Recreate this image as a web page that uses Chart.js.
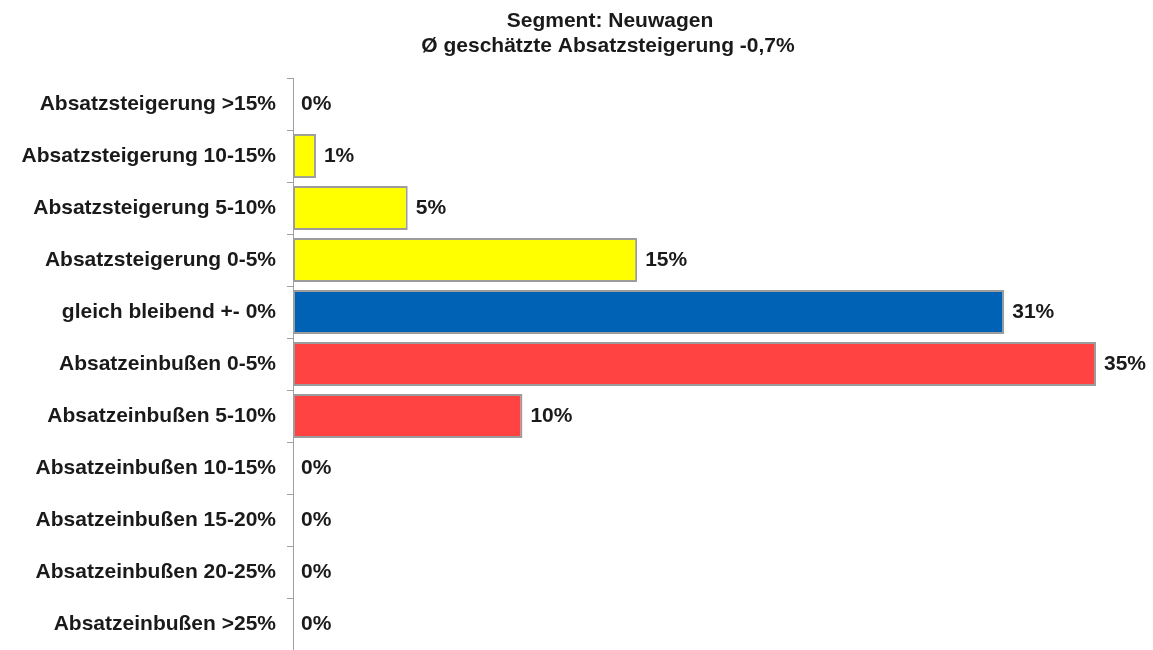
<!DOCTYPE html>
<html>
<head>
<meta charset="utf-8">
<script src="https://cdn.jsdelivr.net/npm/chart.js@4/dist/chart.umd.min.js"></script>
<style>
  html, body { margin: 0; padding: 0; background: #fff; overflow: hidden; }
  #wrap { width: 1153px; height: 650px; }
</style>
</head>
<body>
<div id="wrap"><canvas id="chart"></canvas></div>
<script>
var titleLines = ['Segment: Neuwagen', 'Ø geschätzte Absatzsteigerung -0,7%'];
var categories = [
    'Absatzsteigerung >15%',
    'Absatzsteigerung 10-15%',
    'Absatzsteigerung 5-10%',
    'Absatzsteigerung 0-5%',
    'gleich bleibend +- 0%',
    'Absatzeinbußen 0-5%',
    'Absatzeinbußen 5-10%',
    'Absatzeinbußen 10-15%',
    'Absatzeinbußen 15-20%',
    'Absatzeinbußen 20-25%',
    'Absatzeinbußen >25%'
];
var shares = [0, 1, 5, 15, 31, 35, 10, 0, 0, 0, 0];
var barColors = [
    '#FFFF00', '#FFFF00', '#FFFF00', '#FFFF00',
    '#0062B4',
    '#FF4343', '#FF4343', '#FF4343', '#FF4343', '#FF4343', '#FF4343'
];

var font = 'Liberation Sans, Arial, sans-serif';

// title drawn by hand, it sits a bit right of the canvas centre in the original
var titlePlugin = {
    id: 'twoLineTitle',
    afterDraw: function (chart) {
        var ctx = chart.ctx;
        ctx.save();
        ctx.font = 'bold 21px ' + font;
        ctx.fillStyle = '#1a1a1a';
        ctx.textAlign = 'center';
        ctx.textBaseline = 'middle';
        ctx.fillText(titleLines[0], 610, 21);
        ctx.fillText(titleLines[1], 608, 46);
        ctx.restore();
    }
};

var valueLabels = {
    id: 'valueLabels',
    afterDatasetsDraw: function (chart) {
        var ctx = chart.ctx;
        var meta = chart.getDatasetMeta(0);
        ctx.save();
        ctx.font = 'bold 21px ' + font;
        ctx.fillStyle = '#1a1a1a';
        ctx.textAlign = 'left';
        ctx.textBaseline = 'middle';
        meta.data.forEach(function (bar, i) {
            ctx.fillText(shares[i] + '%', bar.x + 8, bar.y);
        });
        ctx.restore();
    }
};

new Chart(document.getElementById('chart').getContext('2d'), {
    type: 'bar',
    data: {
        labels: categories,
        datasets: [{
            data: shares,
            backgroundColor: barColors,
            borderColor: '#9C9C9C',
            borderWidth: 2,
            borderSkipped: false,
            barPercentage: 0.85,
            categoryPercentage: 1.0
        }]
    },
    options: {
        indexAxis: 'y',
        responsive: true,
        maintainAspectRatio: false,
        animation: false,
        layout: {
            padding: { top: 78, right: 57, bottom: 0, left: 0 }
        },
        plugins: {
            legend: { display: false },
            tooltip: { enabled: false },
            title: { display: false }
        },
        scales: {
            x: {
                display: false,
                min: 0,
                max: 35
            },
            y: {
                afterFit: function (scale) {
                    scale.width = 293;
                    scale.paddingTop = 0;
                    scale.paddingBottom = 0;
                },
                border: { display: true, color: '#A0A0A0', width: 1 },
                grid: {
                    display: true,
                    drawOnChartArea: false,
                    offset: true,
                    tickLength: 6,
                    color: '#A0A0A0'
                },
                ticks: {
                    padding: 11,
                    color: '#1a1a1a',
                    font: { family: font, size: 21, weight: 'bold' }
                }
            }
        }
    },
    plugins: [titlePlugin, valueLabels]
});
</script>
</body>
</html>
